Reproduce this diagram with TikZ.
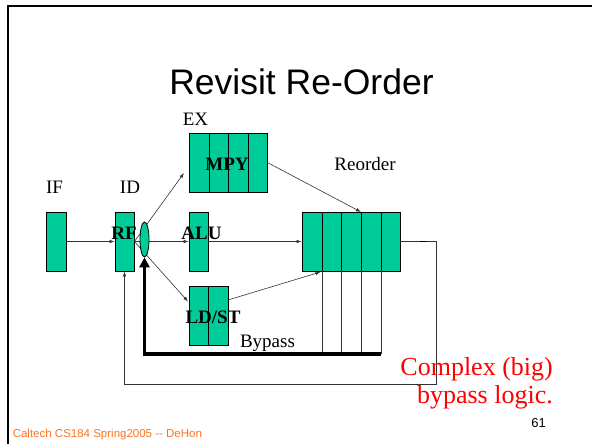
\documentclass[tikz,border=0pt]{standalone}
\usepackage{fontspec}
\setmainfont{Liberation Serif}
\newfontfamily\arialf{Liberation Sans}
\usetikzlibrary{arrows.meta,shapes.geometric}
\definecolor{boxgreen}{RGB}{0,204,153}
\definecolor{footorange}{RGB}{255,115,30}
\begin{document}
\begin{tikzpicture}[x=1pt,y=-1pt,
  stage/.style={draw=black, fill=boxgreen, line width=0.8pt, inner sep=0pt, minimum height=59pt},
  cell/.style={draw=black, line width=0.8pt},
  lbl/.style={font=\fontsize{19}{22}\selectfont, inner sep=0pt, anchor=base},
  blbl/.style={font=\fontsize{19}{22}\selectfont\bfseries, inner sep=0pt, anchor=base},
  conn/.style={draw=black!80, line width=0.6pt, -{Latex[length=5pt,width=3.5pt]}},
  wire/.style={draw=black!80, line width=0.6pt},
  redtxt/.style={font=\fontsize{26}{30}\selectfont, text=red, inner sep=0pt, anchor=base east},
]
\useasboundingbox (0,0) rectangle (592,444);
% slide frame
\draw[line width=2.4pt] (7.8,444) -- (7.8,6.2) -- (592,6.2);

% stages
\node[stage, minimum width=20pt] (IF) at (56,241.5) {};
\node[stage, minimum width=19pt] (RF) at (124.5,241.5) {};
\node[stage, minimum width=78pt] (MPY) at (228,162.5) {};
\node[stage, minimum width=19pt] (ALU) at (198.5,241.5) {};
\node[stage, minimum width=39pt] (LDST) at (208.5,315.5) {};
\node[stage, minimum width=98pt] (ROB) at (351,241.5) {};
\foreach \x in {209,228,248} \draw[cell] (\x,133) -- (\x,192);
\draw[cell] (208.5,286) -- (208.5,345);
\foreach \x in {322,341,361,381} \draw[cell] (\x,212) -- (\x,271);

% free ends
\coordinate (mpyin) at (184,173);
\coordinate (ldstin) at (188,301.5);
\coordinate (robtop) at (361,212);
\coordinate (robbot) at (320.5,272);
\coordinate (ldstout) at (228,300);
\coordinate (fb) at (436,384);

% connectors
\draw[conn] (IF.east) -- (RF.west);
\draw[conn] (RF.east) -- (mpyin);
\draw[conn] (RF.east) -- (ldstin);
\draw[conn] (RF.east) -- (ALU.west);
\draw[conn] (ALU.east) -- (ROB.west);
\draw[conn] (MPY.east) -- (robtop);
\draw[conn] (ldstout) -- (robbot);
\draw[conn] (ROB.east) -| (fb) -| (RF.south);
\draw[line width=1.6pt] (420,241.5) -- (426,241.5);

% bypass
\foreach \x/\n in {322/b1,341/b2,361/b3,381/b4} {
  \coordinate (\n) at (\x,354);
  \draw[wire] (\x,271) -- (\n);
}

% mux
\node[draw=black, fill=boxgreen, ellipse, minimum width=9pt, minimum height=35pt, inner sep=0pt, line width=0.8pt] (MUX) at (144.5,239.5) {};
\draw[line width=3.4pt, -{Triangle[length=10pt,width=10pt]}] (b4) -| (MUX.south);

% labels
\node[font=\arialf\fontsize{35.5}{40}\selectfont, inner sep=0pt, anchor=base] (title) at (301.5,95) {Revisit Re-Order};
\node[lbl] (lIF) at (54.5,193) {IF};
\node[lbl] (lID) at (130,193) {ID};
\node[lbl] (lEX) at (195.5,125.5) {EX};
\node[lbl] (lReorder) at (365,170) {Reorder};
\node[lbl] (lBypass) at (267.5,347) {Bypass};
\node[blbl] (lRF) at (124,239) {RF};
\node[blbl] (lALU) at (201.5,239) {ALU};
\node[blbl] (lMPY) at (227,170) {MPY};
\node[blbl] (lLDST) at (213,323) {LD/ST};
\node[redtxt] (note1) at (553,375) {Complex (big)};
\node[redtxt] (note2) at (553,403) {bypass logic.};
\node[font=\arialf\fontsize{13}{15}\selectfont, inner sep=0pt, anchor=base east] (pagenum) at (546,427) {61};
\node[font=\arialf\fontsize{11.5}{13}\selectfont, text=footorange, inner sep=0pt, anchor=base west] (footer) at (12.6,437) {Caltech CS184 Spring2005 -- DeHon};
\end{tikzpicture}
\end{document}
